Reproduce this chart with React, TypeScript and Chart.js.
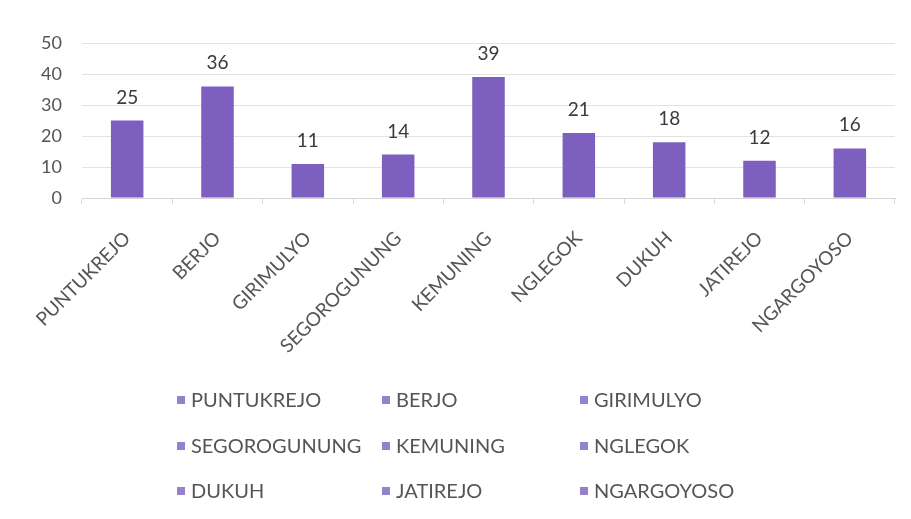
import React, { useEffect, useRef } from "react";
import { Chart, registerables } from "chart.js";

Chart.register(...registerables);

const categories = [
  "PUNTUKREJO",
  "BERJO",
  "GIRIMULYO",
  "SEGOROGUNUNG",
  "KEMUNING",
  "NGLEGOK",
  "DUKUH",
  "JATIREJO",
  "NGARGOYOSO",
];
const values = [25, 36, 11, 14, 39, 21, 18, 12, 16];
const yMin = 0;
const yMax = 50;
const yStep = 10;

const FONT = "Lato, 'Open Sans', sans-serif";
const BAR_COLOR = "#7d5fc0";
const LEGEND_MARK = "#9682cc";
const TEXT = "#555555";
const LABEL = "#3a3a3a";

const W = 911;
const H = 519;
const LEGEND_X = [177, 382, 580];
const LEGEND_Y = [400, 446, 491];

const valueLabels = {
  id: "valueLabels",
  afterDatasetsDraw(chart: any) {
    const ctx = chart.ctx;
    const meta = chart.getDatasetMeta(0);
    ctx.save();
    ctx.font = `19px ${FONT}`;
    ctx.fillStyle = LABEL;
    ctx.textAlign = "center";
    ctx.textBaseline = "alphabetic";
    meta.data.forEach((bar: any, i: number) => {
      ctx.fillText(String(values[i]), bar.x, bar.y - 17);
    });
    ctx.restore();
  },
};

const gridLegend = {
  id: "gridLegend",
  afterDraw(chart: any) {
    const ctx = chart.ctx;
    ctx.save();
    ctx.font = `20px ${FONT}`;
    ctx.textAlign = "left";
    ctx.textBaseline = "middle";
    categories.forEach((name, i) => {
      const col = i % 3;
      const row = Math.floor(i / 3);
      const x = LEGEND_X[col];
      const y = LEGEND_Y[row];
      ctx.fillStyle = LEGEND_MARK;
      ctx.fillRect(x, y - 4, 8, 8);
      ctx.fillStyle = TEXT;
      ctx.fillText(name, x + 14, y + 1);
    });
    ctx.restore();
  },
};

export default function App() {
  const ref = useRef<HTMLCanvasElement>(null);

  useEffect(() => {
    document.body.style.margin = "0";
    const canvas = ref.current;
    if (!canvas) return;
    const chart = new Chart(canvas, {
      type: "bar",
      data: {
        labels: categories,
        datasets: [
          {
            data: values,
            backgroundColor: BAR_COLOR,
            categoryPercentage: 1,
            barPercentage: 0.36,
          },
        ],
      },
      options: {
        responsive: false,
        animation: false,
        layout: { padding: { top: 43, right: 16, left: 0, bottom: 0 } },
        plugins: {
          legend: { display: false },
          tooltip: { enabled: false },
        },
        scales: {
          x: {
            grid: {
              display: true,
              drawOnChartArea: false,
              drawTicks: true,
              tickLength: 6,
              color: "#d9d9d9",
              offset: true,
            },
            border: { display: true, color: "#d4d4d4" },
            ticks: {
              minRotation: 45,
              maxRotation: 45,
              autoSkip: false,
              padding: 23,
              color: TEXT,
              font: { family: FONT, size: 19 },
            },
            afterFit: (scale: any) => {
              scale.height = 321;
            },
          },
          y: {
            min: yMin,
            max: yMax,
            grid: { color: "#e3e3e3", drawTicks: false },
            border: { display: false },
            ticks: {
              stepSize: yStep,
              padding: 20,
              color: TEXT,
              font: { family: FONT, size: 18 },
            },
            afterFit: (scale: any) => {
              scale.width = 82;
            },
          },
        },
      },
      plugins: [valueLabels, gridLegend],
    });
    return () => chart.destroy();
  }, []);

  return (
    <div style={{ position: "relative", width: W, height: H, background: "#fff" }}>
      <canvas ref={ref} width={W} height={H} style={{ width: W, height: H }} />
    </div>
  );
}
